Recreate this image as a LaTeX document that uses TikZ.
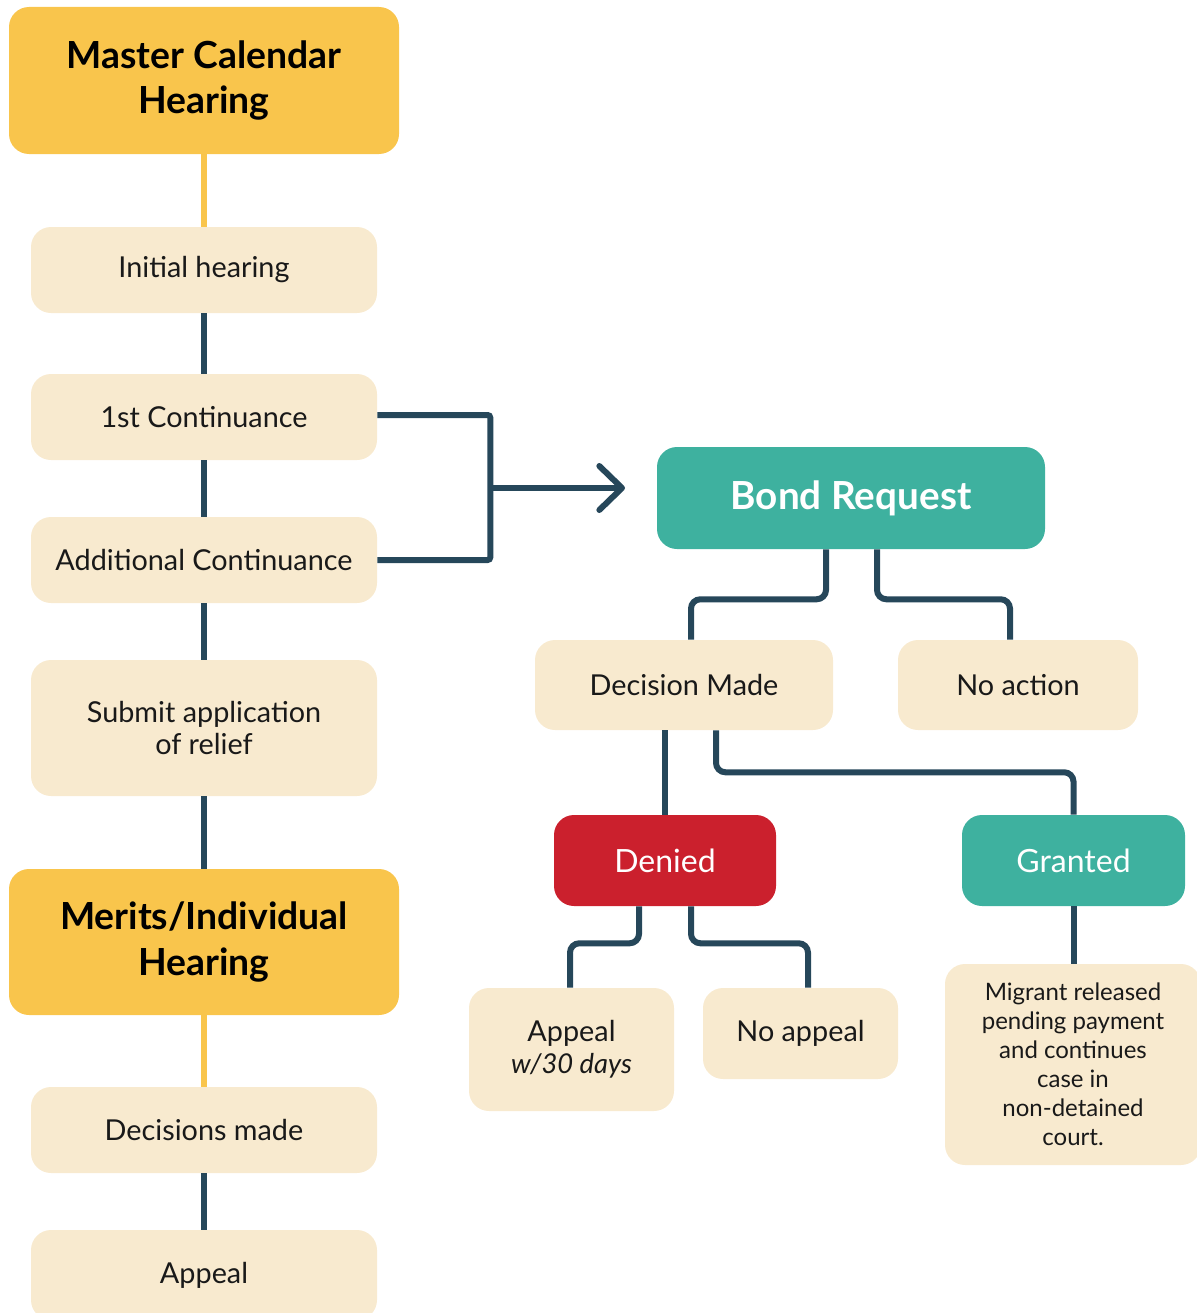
\documentclass[tikz,border=0pt]{standalone}
\usepackage{fontspec}
\setmainfont{Lato}
\usepackage{xcolor}
\usepackage{tikz}
\usetikzlibrary{arrows.meta,positioning}

\definecolor{hearyellow}{HTML}{F9C54C}
\definecolor{stepcream}{HTML}{F8EACF}
\definecolor{bondteal}{HTML}{3EB19F}
\definecolor{denyred}{HTML}{CB202D}
\definecolor{linkdark}{HTML}{26475A}

\begin{document}
\begin{tikzpicture}[
  x=0.75pt, y=-0.75pt,
  size/.style 2 args={minimum width=#1*0.75pt, minimum height=#2*0.75pt},
  base/.style={rounded corners=15pt, inner sep=0pt, align=center},
  hearing/.style={base, fill=hearyellow, text=black,
    font=\fontsize{28}{34}\selectfont\bfseries},
  stepbox/.style={base, fill=stepcream, text=black!90,
    font=\fontsize{21.6}{24}\selectfont},
  bond/.style={base, fill=bondteal, text=white,
    font=\fontsize{29}{32}\selectfont\bfseries},
  outcome/.style={base, text=white, font=\fontsize{24}{28}\selectfont},
  note/.style={base, fill=stepcream, text=black!90,
    font=\fontsize{18}{21.7}\selectfont},
  link/.style={draw=linkdark, line width=4.5pt, rounded corners=7pt},
  goldlink/.style={draw=hearyellow, line width=5pt},
  arrow/.style={draw=linkdark, line width=4.5pt,
    -{Straight Barb[length=17pt, width=33pt, round]}}
]
\useasboundingbox (0,0) rectangle (1196,1313);

% left column
\node[hearing, size={390}{147}] (master) at (204,80.5) {Master Calendar\\Hearing};
\node[stepbox, size={346}{86}]  (initial) at (204,270) {Initial hearing};
\node[stepbox, size={346}{86}]  (cont1) at (204,417) {1st Continuance};
\node[stepbox, size={346}{86}]  (cont2) at (204,560) {Additional Continuance};
\node[stepbox, size={346}{136}] (submit) at (204,728) {Submit application\\of relief};
\node[hearing, size={390}{146}] (merits) at (204,942) {Merits/Individual\\Hearing};
\node[stepbox, size={346}{86}]  (decided) at (204,1130) {Decisions made};
\node[stepbox, size={346}{90}]  (appealL) at (204,1275) {Appeal};

% bond branch
\node[bond, size={388}{102}]    (bondreq) at (851,498) {Bond Request};
\node[stepbox, size={298}{90}]  (made) at (684,685) {Decision Made};
\node[stepbox, size={240}{90}]  (noaction) at (1018,685) {No action};
\node[outcome, fill=denyred, size={222}{91}]  (denied) at (665,860.5) {Denied};
\node[outcome, fill=bondteal, size={223}{91}] (granted) at (1073.5,860.5) {Granted};
\node[stepbox, size={205}{123}] (appeal) at (571.5,1049.5)
  {Appeal\\{\itshape\fontsize{20.5}{22}\selectfont w/30 days}};
\node[stepbox, size={195}{91}]  (noappeal) at (800.5,1033.5) {No appeal};
\node[note, size={256}{201}]    (migrant) at (1073,1064.5)
  {Migrant released\\pending payment\\and continues\\case in\\non-detained\\court.};

% connectors
\draw[goldlink] (master) -- (initial);
\draw[goldlink] (merits) -- (decided);
\draw[link] (initial) -- (cont1);
\draw[link] (cont1) -- (cont2);
\draw[link] (cont2) -- (submit);
\draw[link] (submit) -- (merits);
\draw[link] (decided) -- (appealL);

\draw[link, rounded corners=2pt] ([shift={(0,-2)}]cont1.east) -- ++(113,0) |- (cont2.east);
\coordinate (fork) at (490,488);
\coordinate (tip) at (625,488);
\draw[arrow] (fork) -- (tip);

\draw[link] ([shift={(-25,0)}]bondreq.south) -- ++(0,50) -| ([shift={(7,0)}]made.north);
\draw[link] ([shift={(26,0)}]bondreq.south) -- ++(0,50) -| ([shift={(-8,0)}]noaction.north);
\draw[link] (denied.north |- made.south) -- (denied.north);
\draw[link] ([shift={(32,0)}]made.south) -- ++(0,42) -| (granted.north);
\draw[link] ([shift={(-26,0)}]denied.south) -- ++(0,37) -| ([shift={(-1.5,0)}]appeal.north);
\draw[link] ([shift={(26,0)}]denied.south) -- ++(0,37) -| ([shift={(7.5,0)}]noappeal.north);
\draw[link] (granted.south) -- (migrant.north -| granted.south);
\end{tikzpicture}
\end{document}
